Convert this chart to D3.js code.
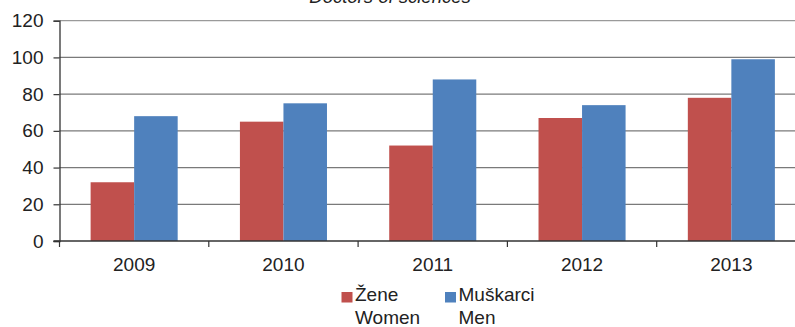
<!DOCTYPE html>
<html>
<head>
<meta charset="utf-8">
<script src="https://cdn.jsdelivr.net/npm/d3@7"></script>
<style>
  html, body { margin: 0; padding: 0; background: #fff; }
  svg { display: block; font-family: "Liberation Sans", Arial, sans-serif; }
</style>
</head>
<body>
<svg id="chart" width="795" height="327"></svg>
<script>
// Doctors of sciences by year, split by sex
const years = ["2009", "2010", "2011", "2012", "2013"];
const women = [32, 65, 52, 67, 78];
const men = [68, 75, 88, 74, 99];
const seriesNames = [["Žene", "Women"], ["Muškarci", "Men"]];
const yTicks = [0, 20, 40, 60, 80, 100, 120];
const title = "Doctors of sciences";

const svg = d3.select("#chart");
const colors = ["#C0504D", "#4F81BD"];

const plotLeft = 59.5, plotRight = 806, plotTop = 20.7, plotBottom = 241;
const x = d3.scaleBand().domain(years).range([plotLeft, plotRight]).paddingInner(0).paddingOuter(0);
const y = d3.scaleLinear().domain([0, 120]).range([plotBottom, plotTop]);

// inner grouping for the two bars in each year
const inner = d3.scaleBand().domain([0, 1]).range([0, x.bandwidth()]).paddingOuter(0.715).paddingInner(0);

// title (sits partly above the top edge)
svg.append("text")
  .attr("x", 390).attr("y", 3)
  .attr("text-anchor", "middle")
  .attr("font-size", 18.5).attr("font-style", "italic")
  .attr("fill", "#222")
  .text(title);

// horizontal gridlines
svg.append("g")
  .selectAll("line")
  .data(yTicks.filter(d => d > 0))
  .join("line")
  .attr("x1", plotLeft).attr("x2", plotRight)
  .attr("y1", d => y(d)).attr("y2", d => y(d))
  .attr("stroke", d => d === 120 ? "#9a9a9a" : "#7a7a7a")
  .attr("stroke-width", 1.3);

// bars
const rows = years.map((yr, i) => ({ yr, vals: [women[i], men[i]] }));
const groups = svg.append("g").selectAll("g")
  .data(rows).join("g")
  .attr("transform", d => `translate(${x(d.yr)},0)`);
groups.selectAll("rect")
  .data(d => d.vals.map((v, k) => ({ v, k })))
  .join("rect")
  .attr("x", d => inner(d.k))
  .attr("width", inner.bandwidth())
  .attr("y", d => y(d.v))
  .attr("height", d => y(0) - y(d.v))
  .attr("fill", d => colors[d.k]);

// y axis
const yAxis = d3.axisLeft(y).tickValues(yTicks).tickSize(6).tickPadding(10);
const gy = svg.append("g").attr("transform", `translate(${plotLeft},0)`).call(yAxis);
gy.select(".domain").attr("stroke", "#333").attr("stroke-width", 1.3);
gy.selectAll(".tick line").attr("stroke", "#333").attr("stroke-width", 1.2);
gy.selectAll(".tick text").attr("font-size", 19).attr("fill", "#222")
  .attr("font-family", "Liberation Sans, Arial, sans-serif");

// x axis with ticks at category boundaries
svg.append("line")
  .attr("x1", plotLeft - 6).attr("x2", plotRight)
  .attr("y1", plotBottom).attr("y2", plotBottom)
  .attr("stroke", "#333").attr("stroke-width", 1.3);
const bounds = years.map(d => x(d)).concat([x(years[years.length - 1]) + x.bandwidth()]);
svg.append("g").selectAll("line")
  .data(bounds).join("line")
  .attr("x1", d => d).attr("x2", d => d)
  .attr("y1", plotBottom).attr("y2", plotBottom + 6)
  .attr("stroke", "#333").attr("stroke-width", 1.2);
svg.append("g").selectAll("text")
  .data(years).join("text")
  .attr("x", d => x(d) + x.bandwidth() / 2)
  .attr("y", 270.5)
  .attr("text-anchor", "middle")
  .attr("font-size", 19).attr("fill", "#222")
  .text(d => d);

// legend
const legendX = [341.5, 445];
const lg = svg.append("g").selectAll("g")
  .data(seriesNames).join("g")
  .attr("transform", (d, i) => `translate(${legendX[i]},0)`);
lg.append("rect")
  .attr("x", 0).attr("y", 292).attr("width", 11).attr("height", 10.5)
  .attr("fill", (d, i) => colors[i]);
lg.append("text")
  .attr("x", 13.5).attr("y", 300.7)
  .attr("font-size", 19).attr("fill", "#222")
  .text(d => d[0]);
lg.append("text")
  .attr("x", 13.5).attr("y", 324.3)
  .attr("font-size", 19).attr("fill", "#222")
  .text(d => d[1]);
</script>
</body>
</html>
